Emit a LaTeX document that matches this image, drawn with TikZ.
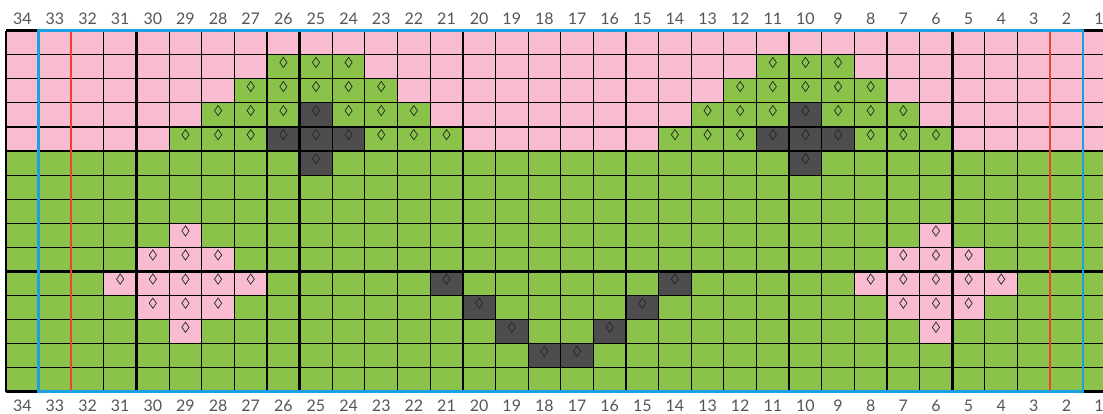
\documentclass[tikz,border=0pt]{standalone}
\usepackage{fontspec}
\setmainfont{Lato}
\usepackage{tikz}
\usetikzlibrary{shapes.geometric}
\definecolor{chartpink}{HTML}{F8BBD0}
\definecolor{chartgreen}{HTML}{8BC34A}
\definecolor{chartdark}{HTML}{4D4D4D}
\definecolor{chartblue}{HTML}{1BA1E2}
\definecolor{chartred}{HTML}{EA4335}
\definecolor{labelgray}{HTML}{555555}
\tikzset{
    stitch/.style={diamond, draw=black!85, line width=0.7pt, inner sep=0pt, minimum width=7.5pt, minimum height=10.5pt},
    colnum/.style={font=\fontsize{16}{16}\selectfont, text=labelgray, anchor=base, inner sep=0pt},
    gridline/.style={line width=1.1pt, black},
    thickline/.style={line width=2.6pt, black},
    blueline/.style={line width=2.6pt, chartblue},
    redline/.style={line width=2.2pt, chartred},
}

\begin{document}
\begin{tikzpicture}[x=32.63pt, y=-24.07pt]
\clip (-6pt,30.7pt) rectangle (1097pt,-383.3pt);
% background
\fill[chartpink] (0,0) rectangle (34,5);
\fill[chartgreen] (0,5) rectangle (34,15);
% green stitches on pink
\foreach \r/\c in {2/26, 2/25, 2/24, 2/11, 2/10, 2/9,
                   3/27, 3/26, 3/25, 3/24, 3/23, 3/12, 3/11, 3/10, 3/9, 3/8,
                   4/28, 4/27, 4/26, 4/24, 4/23, 4/22, 4/13, 4/12, 4/11, 4/9, 4/8, 4/7,
                   5/29, 5/28, 5/27, 5/23, 5/22, 5/21, 5/14, 5/13, 5/12, 5/8, 5/7, 5/6} {
    \fill[chartgreen] ({34-\c},{\r-1}) rectangle ++(1,1);
    \node[stitch] (st\r-\c) at ({34.5-\c},{\r-0.68}) {};
}
% dark stitches
\foreach \r/\c in {4/25, 4/10, 5/26, 5/25, 5/24, 5/11, 5/10, 5/9, 6/25, 6/10,
                   11/21, 11/14, 12/20, 12/15, 13/19, 13/16, 14/18, 14/17} {
    \fill[chartdark] ({34-\c},{\r-1}) rectangle ++(1,1);
    \node[stitch] (st\r-\c) at ({34.5-\c},{\r-0.68}) {};
}
% pink stitches on green
\foreach \r/\c in {9/29, 9/6,
                   10/30, 10/29, 10/28, 10/7, 10/6, 10/5,
                   11/31, 11/30, 11/29, 11/28, 11/27, 11/8, 11/7, 11/6, 11/5, 11/4,
                   12/30, 12/29, 12/28, 12/7, 12/6, 12/5,
                   13/29, 13/6} {
    \fill[chartpink] ({34-\c},{\r-1}) rectangle ++(1,1);
    \node[stitch] (st\r-\c) at ({34.5-\c},{\r-0.68}) {};
}
% grid
\foreach \i in {0,...,34} \draw[gridline] (\i,0) -- (\i,15);
\foreach \j in {0,...,15} \draw[gridline] (0,\j) -- (34,\j);
\foreach \i in {0,4,9,14,19,24,29,34} \draw[thickline] (\i,0) -- (\i,15);
\foreach \j in {0,5,10,15} \draw[thickline] (0,\j) -- (34,\j);
\draw[redline] (2,0) -- (2,15);
\draw[redline] (32,0) -- (32,15);
\draw[blueline] (1,0) rectangle (33,15);
% column numbers
\foreach \c in {1,...,34} {
    \node[colnum, yshift=5.7pt] (top\c) at ({34.5-\c},0) {\c};
    \node[colnum, yshift=-20pt] (bot\c) at ({34.5-\c},15) {\c};
}
\end{tikzpicture}
\end{document}
